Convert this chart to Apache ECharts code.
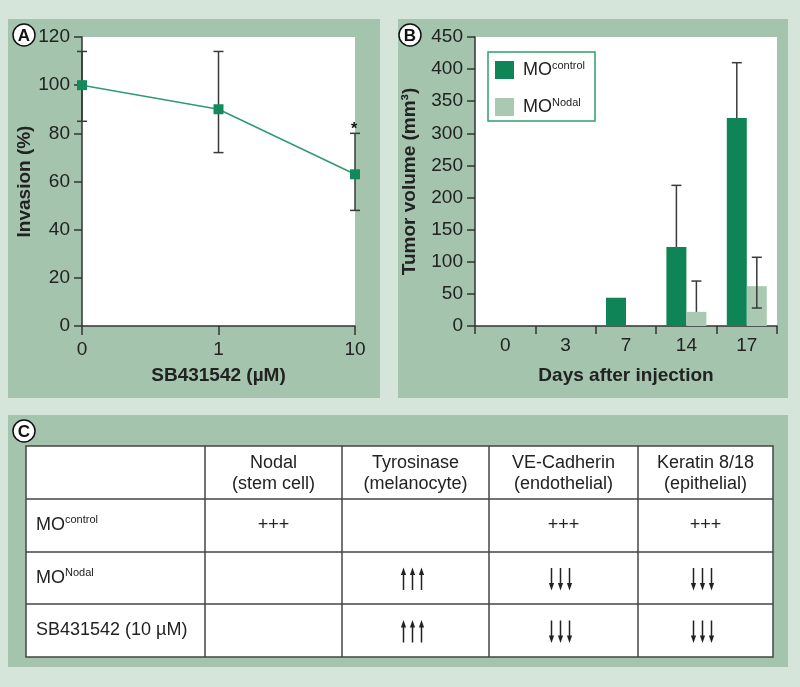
<!DOCTYPE html>
<html><head><meta charset="utf-8">
<script src="https://cdn.jsdelivr.net/npm/echarts@6/dist/echarts.min.js"></script>
<style>html,body{margin:0;padding:0;background:#d5e5da}#c{width:800px;height:687px}</style>
</head><body><div id="c"></div><script>
// ---- Panel A data ----
const doseCategories = ['0', '1', '10'];
const invasionMean = [100, 90, 63];
const invasionHigh = [114, 114, 80];
const invasionLow = [85, 72, 48];
const invasionSignif = ['', '', '*'];
// ---- Panel B data ----
const dayCategories = ['0', '3', '7', '14', '17'];
const controlVolume = [0, 0, 44, 123, 324];
const controlHigh = [null, null, null, 219, 410];
const controlLow = [null, null, null, null, null];
const nodalVolume = [0, 0, 0, 22, 62];
const nodalHigh = [null, null, null, 70, 107];
const nodalLow = [null, null, null, null, 28];
// ---- Panel C data ----
const tableHeaders = [['Nodal', '(stem cell)'], ['Tyrosinase', '(melanocyte)'], ['VE-Cadherin', '(endothelial)'], ['Keratin 8/18', '(epithelial)']];
const tableRowLabels = [['MO', 'control'], ['MO', 'Nodal'], ['SB431542 (10 µM)', '']];
const tableCells = [['+++', '', '+++', '+++'], ['', 'up', 'down', 'down'], ['', 'up', 'down', 'down']];

const FONT = "'Liberation Sans', Arial, sans-serif";
const TXT = '#222';
const AX = '#333';
const DARK = '#0f8456';
const LIGHT = '#a9c9b2';
const PANEL = '#a4c4ad';
const BAR_W = 20;

const chart = echarts.init(document.getElementById('c'));

function axisCommon() {
  return {
    axisLine: { show: true, lineStyle: { color: AX, width: 1.5 } },
    axisTick: { show: true, length: 8, lineStyle: { color: AX, width: 1.5 } },
    axisLabel: { color: TXT, fontSize: 19, fontFamily: FONT },
    splitLine: { show: false },
    nameTextStyle: { color: TXT, fontSize: 19, fontWeight: 'bold', fontFamily: FONT }
  };
}

function panelLabel(letter, cx, cy) {
  return [
    { type: 'circle', shape: { cx: cx, cy: cy, r: 11 }, style: { fill: '#fff', stroke: '#111', lineWidth: 1.5 }, z: 50 },
    { type: 'text', x: cx, y: cy + 1, style: { text: letter, fill: '#111', font: "bold 17px " + FONT, align: 'center', verticalAlign: 'middle' }, z: 51 }
  ];
}

// ---- table graphic ----
const colEdges = [26, 205, 342, 489, 638, 773];
const rowEdges = [446, 499, 552, 604, 657];
const tableEls = [];
tableEls.push({ type: 'rect', shape: { x: colEdges[0], y: rowEdges[0], width: colEdges[5] - colEdges[0], height: rowEdges[4] - rowEdges[0] }, style: { fill: '#fff', stroke: '#444', lineWidth: 1.5 }, z: 1 });
for (let i = 1; i < colEdges.length - 1; i++) {
  tableEls.push({ type: 'line', shape: { x1: colEdges[i], y1: rowEdges[0], x2: colEdges[i], y2: rowEdges[4] }, style: { stroke: '#444', lineWidth: 1.5 }, z: 2 });
}
for (let j = 1; j < rowEdges.length - 1; j++) {
  tableEls.push({ type: 'line', shape: { x1: colEdges[0], y1: rowEdges[j], x2: colEdges[5], y2: rowEdges[j] }, style: { stroke: '#444', lineWidth: 1.5 }, z: 2 });
}
const cellFont = "18px " + FONT;
tableHeaders.forEach((h, i) => {
  const cx = (colEdges[i + 1] + colEdges[i + 2]) / 2;
  tableEls.push({ type: 'text', x: cx, y: 463, style: { text: h[0], fill: TXT, font: cellFont, align: 'center', verticalAlign: 'middle' }, z: 3 });
  tableEls.push({ type: 'text', x: cx, y: 484, style: { text: h[1], fill: TXT, font: cellFont, align: 'center', verticalAlign: 'middle' }, z: 3 });
});
function arrows(cx, cy, dir) {
  const els = [];
  [-9, 0, 9].forEach(dx => {
    const x = cx + dx;
    const s = dir === 'up' ? -1 : 1;
    els.push({ type: 'line', shape: { x1: x, y1: cy - s * 11, x2: x, y2: cy + s * 6 }, style: { stroke: '#222', lineWidth: 1.5 }, z: 3 });
    els.push({ type: 'polygon', shape: { points: [[x, cy + s * 11.5], [x - 2.6, cy + s * 4], [x + 2.6, cy + s * 4]] }, style: { fill: '#222' }, z: 3 });
  });
  return els;
}
tableRowLabels.forEach((r, j) => {
  const cy = (rowEdges[j + 1] + rowEdges[j + 2]) / 2;
  tableEls.push({ type: 'text', x: 36, y: cy, style: {
    text: '{m|' + r[0] + '}' + (r[1] ? '{s|' + r[1] + '}' : ''),
    rich: { m: { fontSize: 18, fontFamily: FONT, fill: TXT, color: TXT, lineHeight: 22, verticalAlign: 'middle' },
            s: { fontSize: 11, fontFamily: FONT, fill: TXT, color: TXT, lineHeight: 22, verticalAlign: 'top', padding: [0, 0, 0, 0] } },
    verticalAlign: 'middle', align: 'left' }, z: 3 });
  tableCells[j].forEach((v, i) => {
    const cx = (colEdges[i + 1] + colEdges[i + 2]) / 2;
    if (v === 'up' || v === 'down') {
      arrows(cx - 3, cy + 1, v).forEach(e => tableEls.push(e));
    } else if (v) {
      tableEls.push({ type: 'text', x: cx, y: cy, style: { text: v, fill: TXT, font: cellFont, align: 'center', verticalAlign: 'middle' }, z: 3 });
    }
  });
});

function errRenderA(params, api) {
  const i = api.value(0);
  const lo = api.coord([i, api.value(1)]);
  const hi = api.coord([i, api.value(2)]);
  const st = { stroke: '#3a3a3a', lineWidth: 1.5 };
  const ch = [
    { type: 'line', shape: { x1: lo[0], y1: lo[1], x2: hi[0], y2: hi[1] }, style: st },
    { type: 'line', shape: { x1: lo[0] - 5, y1: lo[1], x2: lo[0] + 5, y2: lo[1] }, style: st },
    { type: 'line', shape: { x1: hi[0] - 5, y1: hi[1], x2: hi[0] + 5, y2: hi[1] }, style: st }
  ];
  const sig = invasionSignif[params.dataIndex];
  if (sig) ch.push({ type: 'text', x: hi[0] - 1, y: hi[1] - 4, style: { text: sig, fill: '#111', font: 'bold 16px ' + FONT, align: 'center', verticalAlign: 'middle' } });
  return { type: 'group', children: ch };
}

function errRenderB(offsetSign) {
  return function (params, api) {
    const i = api.value(0);
    const lo = api.coord([i, api.value(1)]);
    const hi = api.coord([i, api.value(2)]);
    const x = lo[0] + offsetSign * BAR_W / 2;
    const st = { stroke: '#3a3a3a', lineWidth: 1.5 };
    const ch = [
      { type: 'line', shape: { x1: x, y1: lo[1], x2: x, y2: hi[1] }, style: st },
      { type: 'line', shape: { x1: x - 5, y1: hi[1], x2: x + 5, y2: hi[1] }, style: st }
    ];
    if (api.value(3)) ch.push({ type: 'line', shape: { x1: x - 5, y1: lo[1], x2: x + 5, y2: lo[1] }, style: st });
    return { type: 'group', children: ch };
  };
}

const errA = doseCategories.map((c, i) => [i, invasionLow[i], invasionHigh[i]]);
const errCtrl = [], errNodal = [];
dayCategories.forEach((d, i) => {
  if (controlHigh[i] != null) errCtrl.push([i, controlLow[i] != null ? controlLow[i] : controlVolume[i], controlHigh[i], controlLow[i] != null ? 1 : 0]);
  if (nodalHigh[i] != null) errNodal.push([i, nodalLow[i] != null ? nodalLow[i] : nodalVolume[i], nodalHigh[i], nodalLow[i] != null ? 1 : 0]);
});

const option = {
  backgroundColor: '#d5e5da',
  animation: false,
  textStyle: { fontFamily: FONT },
  graphic: [
    { type: 'rect', shape: { x: 8, y: 19, width: 372, height: 379 }, style: { fill: PANEL }, z: -10 },
    { type: 'rect', shape: { x: 398, y: 19, width: 390, height: 379 }, style: { fill: PANEL }, z: -10 },
    { type: 'rect', shape: { x: 8, y: 415, width: 780, height: 252 }, style: { fill: PANEL }, z: -10 },
    ...panelLabel('A', 24, 35),
    ...panelLabel('B', 410, 35),
    ...panelLabel('C', 24, 431),
    ...tableEls
  ],
  grid: [
    { left: 82, top: 37, width: 273, height: 289, show: true, backgroundColor: '#fff', borderWidth: 0 },
    { left: 475, top: 37, width: 302, height: 289, show: true, backgroundColor: '#fff', borderWidth: 0 }
  ],
  legend: {
    left: 488, top: 52, orient: 'vertical',
    data: ['MOcontrol', 'MONodal'],
    itemWidth: 19, itemHeight: 18, itemGap: 18,
    padding: [8, 10, 5, 7],
    borderColor: '#2f9e6f', borderWidth: 1.5, backgroundColor: '#fff',
    icon: 'rect',
    formatter: name => '{m|MO}{s|' + name.slice(2) + '}',
    textStyle: {
      rich: {
        m: { fontSize: 18, color: TXT, fontFamily: FONT, lineHeight: 20, padding: [0, 0, 0, 4] },
        s: { fontSize: 11, color: TXT, fontFamily: FONT, lineHeight: 20, verticalAlign: 'top' }
      }
    }
  },
  xAxis: [
    Object.assign(axisCommon(), {
      gridIndex: 0, type: 'category', data: doseCategories, boundaryGap: false,
      name: 'SB431542 (µM)', nameLocation: 'middle', nameGap: 40,
      axisTick: { show: true, length: 9, alignWithLabel: true, lineStyle: { color: AX, width: 1.5 } },
      axisLabel: { color: TXT, fontSize: 19, fontFamily: FONT, margin: 14 }
    }),
    Object.assign(axisCommon(), {
      gridIndex: 1, type: 'category', data: dayCategories, boundaryGap: true,
      name: 'Days after injection', nameLocation: 'middle', nameGap: 40,
      axisTick: { show: true, length: 8, interval: 0, lineStyle: { color: AX, width: 1.5 } },
      axisLabel: { color: TXT, fontSize: 19, fontFamily: FONT, margin: 10 }
    })
  ],
  yAxis: [
    Object.assign(axisCommon(), {
      gridIndex: 0, type: 'value', min: 0, max: 120, interval: 20,
      name: 'Invasion (%)', nameLocation: 'middle', nameGap: 44,
      axisLabel: { color: TXT, fontSize: 19, fontFamily: FONT, margin: 12 }
    }),
    Object.assign(axisCommon(), {
      gridIndex: 1, type: 'value', min: 0, max: 450, interval: 50,
      name: 'Tumor volume (mm³)', nameLocation: 'middle', nameGap: 56,
      axisLabel: { color: TXT, fontSize: 19, fontFamily: FONT, margin: 12 }
    })
  ],
  series: [
    { type: 'custom', xAxisIndex: 0, yAxisIndex: 0, data: errA, renderItem: errRenderA, z: 2, silent: true },
    { type: 'line', name: 'Invasion', xAxisIndex: 0, yAxisIndex: 0, data: invasionMean,
      symbol: 'rect', symbolSize: 10, lineStyle: { color: '#2e9b70', width: 1.5 },
      itemStyle: { color: '#138a5c' }, z: 3 },
    { type: 'bar', name: 'MOcontrol', xAxisIndex: 1, yAxisIndex: 1, data: controlVolume,
      barWidth: BAR_W, barGap: '0%', itemStyle: { color: DARK }, z: 2 },
    { type: 'bar', name: 'MONodal', xAxisIndex: 1, yAxisIndex: 1, data: nodalVolume,
      barWidth: BAR_W, barGap: '0%', itemStyle: { color: LIGHT }, z: 2 },
    { type: 'custom', xAxisIndex: 1, yAxisIndex: 1, data: errCtrl, renderItem: errRenderB(-1), z: 4, silent: true },
    { type: 'custom', xAxisIndex: 1, yAxisIndex: 1, data: errNodal, renderItem: errRenderB(1), z: 4, silent: true }
  ]
};
chart.setOption(option);
</script></body></html>
